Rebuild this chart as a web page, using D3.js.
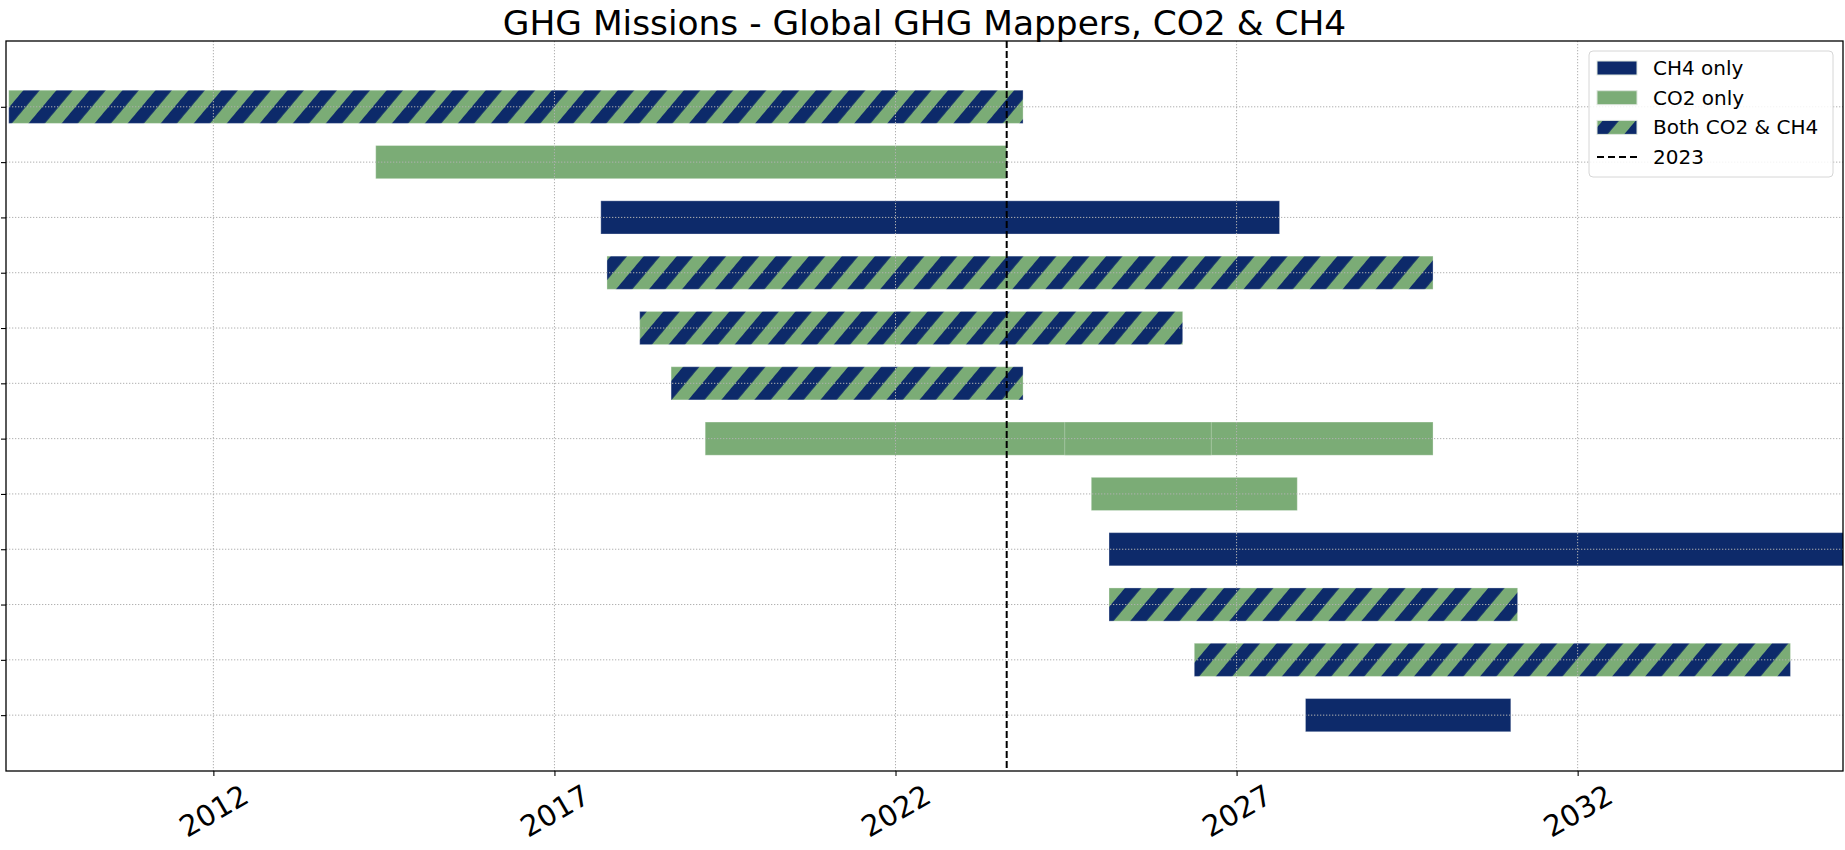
<!DOCTYPE html>
<html>
<head>
<meta charset="utf-8">
<script src="https://cdn.jsdelivr.net/npm/d3@7"></script>
<style>
  body { margin: 0; background: #fff; }
  svg text { font-family: "DejaVu Sans", sans-serif; fill: #000; }
</style>
</head>
<body>
<div id="chart"></div>
<script>
// mission rows (top to bottom), one entry per bar; row 6 holds two bars
var missionIds = ["m01", "m02", "m03", "m04", "m05", "m06", "m07a", "m07b", "m08", "m09", "m10", "m11", "m12"];
var rowIndex   = [0, 1, 2, 3, 4, 5, 6, 6, 7, 8, 9, 10, 11];
var startYears = [2009.0, 2014.38, 2017.68, 2017.77, 2018.25, 2018.71, 2019.21, 2024.48, 2024.87, 2025.13, 2025.13, 2026.38, 2028.01];
var endYears   = [2023.87, 2023.63, 2027.63, 2029.88, 2026.21, 2023.87, 2029.88, 2026.63, 2027.89, 2037.0, 2031.12, 2035.12, 2031.02];
var gases      = ["both", "co2", "ch4", "both", "both", "both", "co2", "co2", "co2", "ch4", "both", "both", "ch4"];

var tickYears = [2012, 2017, 2022, 2027, 2032];
var nowYear = 2023.63;
var nRows = 12;

var legendLabels = ["CH4 only", "CO2 only", "Both CO2 & CH4", "2023"];
var legendKeys   = ["ch4", "co2", "both", "now"];

var navy = "#0d2a6a", green = "#7bac76";

var width = 1845, height = 850;
var margin = {top: 41, right: 2, bottom: 79, left: 6};

var svg = d3.select("#chart").append("svg")
    .attr("width", width)
    .attr("height", height);

// hatch for "both" bars
var defs = svg.append("defs");
var hatch = defs.append("pattern")
    .attr("id", "hatch")
    .attr("patternUnits", "userSpaceOnUse")
    .attr("width", 25.3)
    .attr("height", 25.3)
    .attr("patternTransform", "rotate(40)");
hatch.append("rect").attr("width", 25.3).attr("height", 25.3).attr("fill", green);
hatch.append("rect").attr("width", 12.5).attr("height", 25.3).attr("fill", navy);

function fillFor(g) {
  if (g == "ch4") return navy;
  if (g == "co2") return green;
  return "url(#hatch)";
}

var x = d3.scaleLinear()
    .domain([2008.96, 2035.89])
    .range([margin.left, width - margin.right]);

var y = d3.scaleLinear()
    .domain([-1.19, nRows - 1 + 1.01])
    .range([margin.top, height - margin.bottom]);

var barH = y(0.6) - y(0);

defs.append("clipPath").attr("id", "plotclip")
  .append("rect")
    .attr("x", x.range()[0]).attr("y", y.range()[0])
    .attr("width", x.range()[1] - x.range()[0])
    .attr("height", y.range()[1] - y.range()[0]);

// bars
var bars = svg.append("g").attr("clip-path", "url(#plotclip)");
bars.selectAll("rect")
    .data(missionIds.map(function(id, i) { return i; }))
    .enter()
    .append("rect")
    .attr("x", function(i) { return x(startYears[i]); })
    .attr("y", function(i) { return y(rowIndex[i]) - barH / 2; })
    .attr("width", function(i) { return x(endYears[i]) - x(startYears[i]); })
    .attr("height", barH)
    .attr("fill", function(i) { return fillFor(gases[i]); })
    .attr("stroke", "#ffffff")
    .attr("stroke-opacity", 0.3)
    .attr("stroke-width", 1);

// grid (drawn above the bars like the original)
var grid = svg.append("g");
grid.selectAll(".vgrid")
    .data(tickYears)
    .enter().append("line")
    .attr("x1", function(d) { return x(d); })
    .attr("x2", function(d) { return x(d); })
    .attr("y1", y.range()[0]).attr("y2", y.range()[1])
    .attr("stroke", "#b0b0b0").attr("stroke-width", 1)
    .attr("stroke-dasharray", "1.3,1.7");
grid.selectAll(".hgrid")
    .data(d3.range(nRows))
    .enter().append("line")
    .attr("x1", x.range()[0]).attr("x2", x.range()[1])
    .attr("y1", function(d) { return y(d); })
    .attr("y2", function(d) { return y(d); })
    .attr("stroke", "#b0b0b0").attr("stroke-width", 1)
    .attr("stroke-dasharray", "1.3,1.7");

// "now" line
svg.append("line")
    .attr("x1", x(nowYear)).attr("x2", x(nowYear))
    .attr("y1", y.range()[0]).attr("y2", y.range()[1])
    .attr("stroke", "#000").attr("stroke-width", 2)
    .attr("stroke-dasharray", "7,3");

// axes
var xAxis = svg.append("g")
    .attr("transform", "translate(0," + y.range()[1] + ")")
    .call(d3.axisBottom(x).tickValues(tickYears).tickFormat(d3.format("d")).tickSize(5).tickSizeOuter(0));
xAxis.select(".domain").remove();
xAxis.selectAll(".tick line").attr("stroke", "#000").attr("stroke-width", 1.1);
xAxis.selectAll(".tick text")
    .attr("font-size", "29px")
    .attr("text-anchor", "middle")
    .attr("dominant-baseline", "central")
    .attr("dy", null)
    .attr("y", 40)
    .attr("transform", function() {
      return "rotate(-30,0,40)";
    });

var yAxis = svg.append("g")
    .attr("transform", "translate(" + x.range()[0] + ",0)")
    .call(d3.axisLeft(y).tickValues(d3.range(nRows)).tickFormat("").tickSize(5).tickSizeOuter(0));
yAxis.select(".domain").remove();
yAxis.selectAll(".tick line").attr("stroke", "#000").attr("stroke-width", 1.1);

// frame
svg.append("rect")
    .attr("x", x.range()[0]).attr("y", y.range()[0])
    .attr("width", x.range()[1] - x.range()[0])
    .attr("height", y.range()[1] - y.range()[0])
    .attr("fill", "none").attr("stroke", "#000").attr("stroke-width", 1.3);

// title
svg.append("text")
    .attr("x", (x.range()[0] + x.range()[1]) / 2)
    .attr("y", 35)
    .attr("text-anchor", "middle")
    .attr("font-size", "34.4px")
    .text("GHG Missions - Global GHG Mappers, CO2 & CH4");

// legend
var lg = svg.append("g").attr("transform", "translate(1589,51)");
lg.append("rect")
    .attr("width", 244).attr("height", 126)
    .attr("rx", 4)
    .attr("fill", "#fff").attr("fill-opacity", 0.85)
    .attr("stroke", "#d6d6d6").attr("stroke-width", 1);

var items = lg.selectAll(".item")
    .data(legendKeys)
    .enter().append("g")
    .attr("transform", function(d, i) { return "translate(8," + (17 + i * 29.7) + ")"; });

items.filter(function(d) { return d != "now"; })
  .append("rect")
    .attr("x", 0).attr("y", -7)
    .attr("width", 40).attr("height", 14)
    .attr("fill", function(d) { return fillFor(d); })
    .attr("stroke", "#dfe7de").attr("stroke-width", 1);

items.filter(function(d) { return d == "now"; })
  .append("line")
    .attr("x1", 0).attr("x2", 40)
    .attr("stroke", "#000").attr("stroke-width", 2)
    .attr("stroke-dasharray", "7,4");

items.append("text")
    .attr("x", 56)
    .attr("dy", "0.35em")
    .attr("font-size", "20px")
    .text(function(d, i) { return legendLabels[i]; });
</script>
</body>
</html>
